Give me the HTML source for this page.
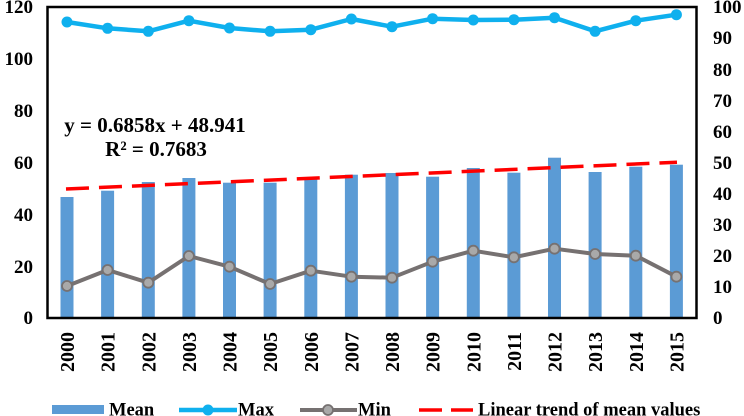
<!DOCTYPE html>
<html>
<head>
<meta charset="utf-8">
<style>
  html, body { margin:0; padding:0; background:#fff; }
  body { width:744px; height:416px; overflow:hidden; }
  svg { display:block; }
  text { font-family: "Liberation Serif", "DejaVu Serif", serif; font-weight:bold; fill:#000; }
</style>
</head>
<body>
<svg width="744" height="416" viewBox="0 0 744 416" xmlns="http://www.w3.org/2000/svg" font-family="Liberation Serif, DejaVu Serif, serif" font-weight="bold">
  <rect x="0" y="0" width="744" height="416" fill="#fff"/>

  <!-- Bars (Mean) -->
  <g fill="#5B9BD5">
    <rect x="60.5" y="197" width="13" height="121"/>
    <rect x="101.1" y="190.7" width="13" height="127.3"/>
    <rect x="141.8" y="182" width="13" height="136"/>
    <rect x="182.4" y="178" width="13" height="140"/>
    <rect x="223" y="182.7" width="13" height="135.3"/>
    <rect x="263.6" y="182.7" width="13" height="135.3"/>
    <rect x="304.3" y="179.3" width="13" height="138.7"/>
    <rect x="344.9" y="174.7" width="13" height="143.3"/>
    <rect x="385.5" y="173" width="13" height="145"/>
    <rect x="426.1" y="176.7" width="13" height="141.3"/>
    <rect x="466.8" y="168" width="13" height="150"/>
    <rect x="507.4" y="172.7" width="13" height="145.3"/>
    <rect x="548" y="157.7" width="13" height="160.3"/>
    <rect x="588.6" y="172" width="13" height="146"/>
    <rect x="629.3" y="166.7" width="13" height="151.3"/>
    <rect x="669.9" y="164.7" width="13" height="153.3"/>
  </g>

  <!-- Trend line -->
  <line x1="66" y1="189" x2="677" y2="162.2" stroke="#FF0000" stroke-width="3.5" stroke-dasharray="23 10"/>

  <!-- Max line -->
  <polyline fill="none" stroke="#0FB0EE" stroke-width="4.5" stroke-linejoin="round"
    points="67,22 107.6,28.3 148.3,31.3 188.9,20.7 229.5,28 270.1,31.3 310.8,29.7 351.4,19 392,26.7 432.6,18.7 473.3,20 513.9,19.7 554.5,17.7 595.1,31.3 635.8,20.7 676.4,14.7"/>
  <g fill="#0FB0EE">
    <circle cx="67" cy="22" r="5.5"/>
    <circle cx="107.6" cy="28.3" r="5.5"/>
    <circle cx="148.3" cy="31.3" r="5.5"/>
    <circle cx="188.9" cy="20.7" r="5.5"/>
    <circle cx="229.5" cy="28" r="5.5"/>
    <circle cx="270.1" cy="31.3" r="5.5"/>
    <circle cx="310.8" cy="29.7" r="5.5"/>
    <circle cx="351.4" cy="19" r="5.5"/>
    <circle cx="392" cy="26.7" r="5.5"/>
    <circle cx="432.6" cy="18.7" r="5.5"/>
    <circle cx="473.3" cy="20" r="5.5"/>
    <circle cx="513.9" cy="19.7" r="5.5"/>
    <circle cx="554.5" cy="17.7" r="5.5"/>
    <circle cx="595.1" cy="31.3" r="5.5"/>
    <circle cx="635.8" cy="20.7" r="5.5"/>
    <circle cx="676.4" cy="14.7" r="5.5"/>
  </g>

  <!-- Min line -->
  <polyline fill="none" stroke="#767171" stroke-width="4" stroke-linejoin="round"
    points="67,286 107.6,270 148.3,282.7 188.9,256 229.5,266.7 270.1,284 310.8,270.7 351.4,276.7 392,277.7 432.6,261.7 473.3,250.7 513.9,257.3 554.5,248.7 595.1,254 635.8,255.7 676.4,276.7"/>
  <g fill="#A9A9A9" stroke="#767171" stroke-width="1.8">
    <circle cx="67" cy="286" r="5"/>
    <circle cx="107.6" cy="270" r="5"/>
    <circle cx="148.3" cy="282.7" r="5"/>
    <circle cx="188.9" cy="256" r="5"/>
    <circle cx="229.5" cy="266.7" r="5"/>
    <circle cx="270.1" cy="284" r="5"/>
    <circle cx="310.8" cy="270.7" r="5"/>
    <circle cx="351.4" cy="276.7" r="5"/>
    <circle cx="392" cy="277.7" r="5"/>
    <circle cx="432.6" cy="261.7" r="5"/>
    <circle cx="473.3" cy="250.7" r="5"/>
    <circle cx="513.9" cy="257.3" r="5"/>
    <circle cx="554.5" cy="248.7" r="5"/>
    <circle cx="595.1" cy="254" r="5"/>
    <circle cx="635.8" cy="255.7" r="5"/>
    <circle cx="676.4" cy="276.7" r="5"/>
  </g>

  <!-- Plot border -->
  <rect x="47.5" y="7" width="649" height="311" fill="none" stroke="#000" stroke-width="2.5"/>

  <!-- Equation -->
  <g font-family="Liberation Serif, DejaVu Serif, serif" font-weight="bold">
    <text x="155" y="132" font-size="21" text-anchor="middle">y = 0.6858x + 48.941</text>
    <text x="156" y="156" font-size="21" text-anchor="middle">R² = 0.7683</text>
  </g>

  <!-- Left axis labels -->
  <g font-size="19" text-anchor="end" font-family="Liberation Serif, DejaVu Serif, serif" font-weight="bold">
    <text x="33" y="13">120</text>
    <text x="33" y="65">100</text>
    <text x="33" y="117">80</text>
    <text x="33" y="169">60</text>
    <text x="33" y="221">40</text>
    <text x="33" y="273">20</text>
    <text x="33" y="324">0</text>
  </g>

  <!-- Right axis labels -->
  <g font-size="19" text-anchor="start" font-family="Liberation Serif, DejaVu Serif, serif" font-weight="bold">
    <text x="713" y="13">100</text>
    <text x="713" y="44">90</text>
    <text x="713" y="76">80</text>
    <text x="713" y="107">70</text>
    <text x="713" y="138">60</text>
    <text x="713" y="169">50</text>
    <text x="713" y="200">40</text>
    <text x="713" y="231">30</text>
    <text x="713" y="262">20</text>
    <text x="713" y="293">10</text>
    <text x="713" y="324">0</text>
  </g>

  <!-- Year labels -->
  <g font-size="20" text-anchor="end" font-family="Liberation Serif, DejaVu Serif, serif" font-weight="bold">
    <text transform="translate(74,332) rotate(-90)">2000</text>
    <text transform="translate(114.6,332) rotate(-90)">2001</text>
    <text transform="translate(155.3,332) rotate(-90)">2002</text>
    <text transform="translate(195.9,332) rotate(-90)">2003</text>
    <text transform="translate(236.5,332) rotate(-90)">2004</text>
    <text transform="translate(277.1,332) rotate(-90)">2005</text>
    <text transform="translate(317.8,332) rotate(-90)">2006</text>
    <text transform="translate(358.4,332) rotate(-90)">2007</text>
    <text transform="translate(399,332) rotate(-90)">2008</text>
    <text transform="translate(439.6,332) rotate(-90)">2009</text>
    <text transform="translate(480.3,332) rotate(-90)">2010</text>
    <text transform="translate(520.9,332) rotate(-90)">2011</text>
    <text transform="translate(561.5,332) rotate(-90)">2012</text>
    <text transform="translate(602.1,332) rotate(-90)">2013</text>
    <text transform="translate(642.8,332) rotate(-90)">2014</text>
    <text transform="translate(683.4,332) rotate(-90)">2015</text>
  </g>

  <!-- Legend -->
  <g font-size="18.5" font-family="Liberation Serif, DejaVu Serif, serif" font-weight="bold">
    <rect x="52" y="405" width="52" height="9" fill="#5B9BD5"/>
    <text x="109" y="415.5">Mean</text>

    <line x1="179" y1="410" x2="237" y2="410" stroke="#0FB0EE" stroke-width="4.5"/>
    <circle cx="208" cy="410" r="5.5" fill="#0FB0EE"/>
    <text x="238" y="415.5">Max</text>

    <line x1="300" y1="410" x2="357" y2="410" stroke="#767171" stroke-width="4"/>
    <circle cx="328" cy="410" r="5" fill="#A9A9A9" stroke="#767171" stroke-width="1.8"/>
    <text x="358" y="415.5">Min</text>

    <line x1="419" y1="410" x2="442" y2="410" stroke="#FF0000" stroke-width="3.5"/>
    <line x1="451" y1="410" x2="473" y2="410" stroke="#FF0000" stroke-width="3.5"/>
    <text x="478" y="415.5">Linear trend of mean values</text>
  </g>
</svg>
</body>
</html>
